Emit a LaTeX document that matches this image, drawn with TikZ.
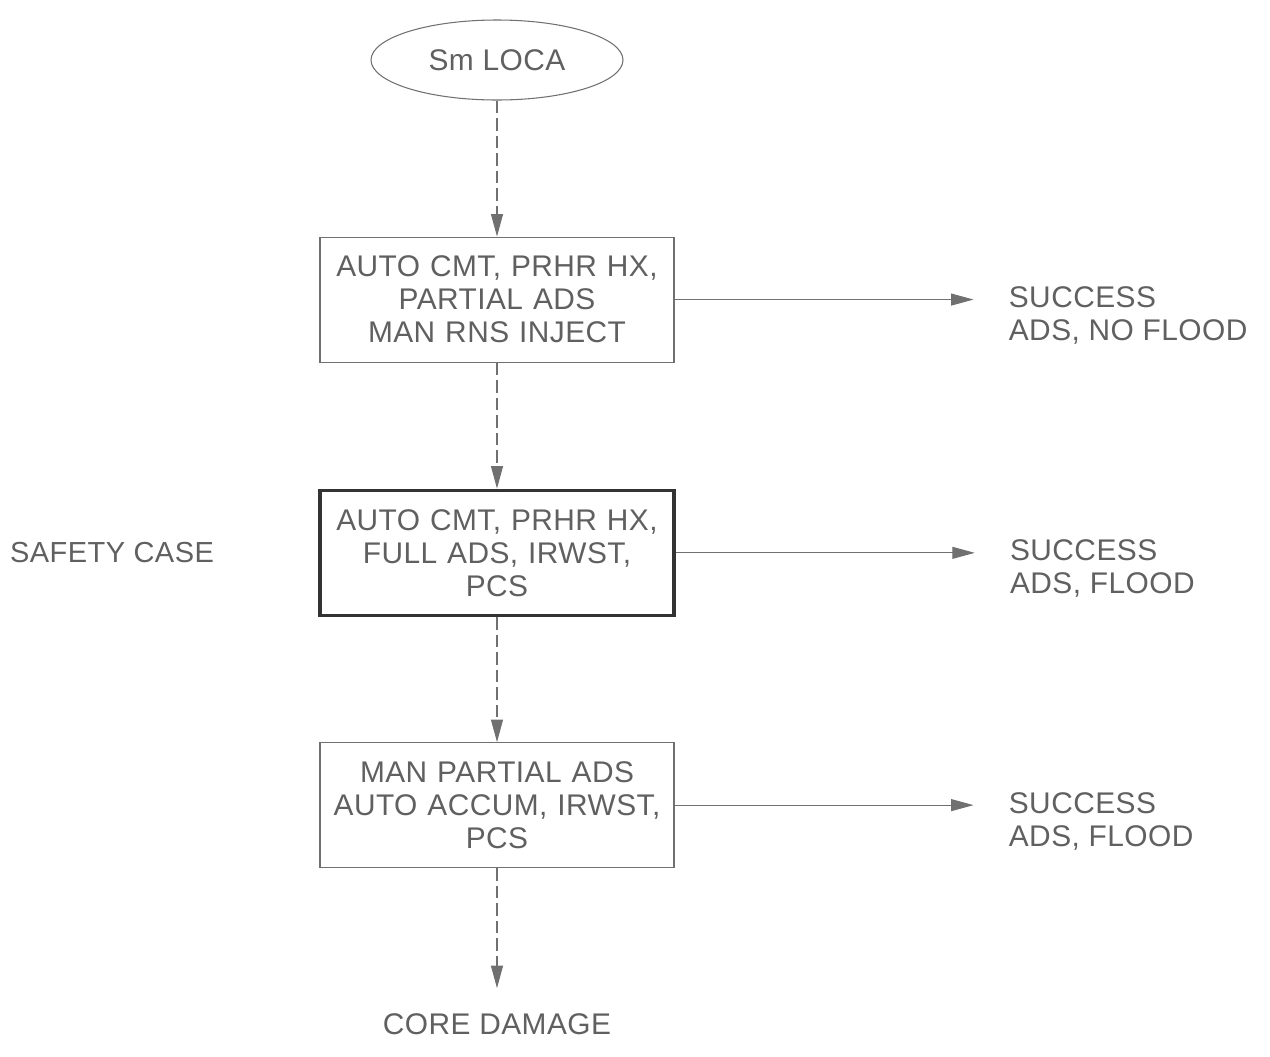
\documentclass[tikz,border=0pt]{standalone}
\usepackage{fontspec}
\setsansfont{Liberation Sans}[LetterSpace=1.5]
\usepackage{xcolor}
\usepackage{tikz}
\usetikzlibrary{shapes.geometric, arrows.meta, positioning}

\definecolor{inkgray}{HTML}{606060}
\definecolor{linegray}{HTML}{707070}

\begin{document}
\begin{tikzpicture}[node distance=2.5cm, auto, font=\sffamily\fontsize{17}{18.8}\selectfont, text=inkgray]
        \tikzstyle{block} = [rectangle, draw=linegray, line width=0.6pt, inner xsep=0pt, minimum width=7.08cm, minimum height=2.5cm, text width=7cm, align=center]
        \tikzstyle{safeblock} = [block, draw=black!80, line width=2pt]
        \tikzstyle{event} = [ellipse, draw=linegray, line width=0.6pt, minimum width=5.04cm, minimum height=1.6cm]
        \tikzstyle{outcome} = [align=left, anchor=west, inner sep=0pt, yshift=-0.32cm]
        \tikzstyle{dashline} = [draw=linegray, line width=0.6pt, dash pattern=on 0.25cm off 0.1cm, -{Triangle[length=0.45cm, width=0.24cm]}]
        \tikzstyle{line} = [draw=linegray, line width=0.6pt, -{Triangle[length=0.45cm, width=0.24cm]}]

        \useasboundingbox (0,0) rectangle (25.4,-21.12);

        \node [event] (loca) at (9.94,-1.2) {Sm LOCA};
        \node [block, below=2.72cm of loca] (partial) {AUTO CMT, PRHR HX,\\PARTIAL ADS\\MAN RNS INJECT};
        \node [safeblock, below=2.52cm of partial] (full) {AUTO CMT, PRHR HX,\\FULL ADS, IRWST,\\PCS};
        \node [block, below=2.5cm of full] (accum) {MAN PARTIAL ADS\\AUTO ACCUM, IRWST,\\PCS};
        \node [below=2.4cm of accum, inner ysep=0.5cm] (core) {CORE DAMAGE};

        \node [outcome, right=6.68cm of partial.east] (ok1) {SUCCESS\\ADS, NO FLOOD};
        \node [outcome, right=6.68cm of full.east] (ok2) {SUCCESS\\ADS, FLOOD};
        \node [outcome, right=6.68cm of accum.east] (ok3) {SUCCESS\\ADS, FLOOD};
        \node [left=2.08cm of full.west, inner sep=0pt, font=\sffamily\fontsize{16.5}{18}\selectfont] (safety) {SAFETY CASE};

        \path [dashline] (loca) -- (partial);
        \path [dashline] (partial) -- (full);
        \path [dashline] (full) -- (accum);
        \path [dashline] (accum) -- (core);

        \path [line, shorten >=0.7cm] (partial) -- (ok1.west |- partial);
        \path [line, shorten >=0.7cm] (full) -- (ok2.west |- full);
        \path [line, shorten >=0.7cm] (accum) -- (ok3.west |- accum);
    \end{tikzpicture}
\end{document}
